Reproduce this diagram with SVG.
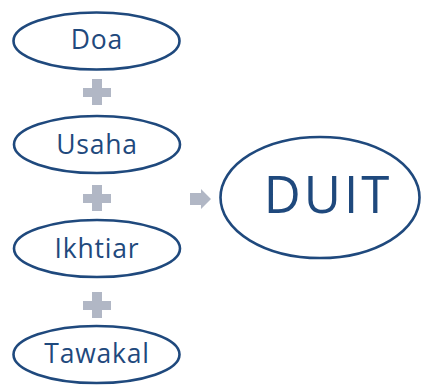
<svg xmlns="http://www.w3.org/2000/svg" width="421" height="385" viewBox="0 0 421 385">
<style>
.n ellipse{fill:#fff;stroke:#1F497D;stroke-width:2.6}
.n text{font-family:"Open Sans","Noto Sans",sans-serif;fill:#1F497D;text-anchor:middle}
.s{font-size:26.5px;letter-spacing:0.8px}
.p{fill:#B1B7C5}
</style>
<rect width="421" height="385" fill="#fff"/>
<g id="doa" class="n"><ellipse cx="96.5" cy="41" rx="83" ry="28.5"/><text class="s" x="97" y="49">Doa</text></g>
<g id="usaha" class="n"><ellipse cx="97" cy="144.5" rx="83" ry="28.5"/><text class="s" x="97" y="154">Usaha</text></g>
<g id="ikhtiar" class="n"><ellipse cx="97" cy="248.5" rx="83" ry="28.5"/><text class="s" x="97" y="258">Ikhtiar</text></g>
<g id="tawakal" class="n"><ellipse cx="96.5" cy="354.5" rx="83" ry="28.5"/><text class="s" x="97" y="363">Tawakal</text></g>
<g id="duit" class="n"><ellipse cx="320" cy="197.5" rx="99.5" ry="60.5"/><text x="328" y="213" font-size="51" letter-spacing="3">DUIT</text></g>
<g id="connectors">
<path class="p" d="M92 79h10v9h9v9h-9v8h-10v-8h-9v-9h9z"/>
<path class="p" d="M92 185h10v9h9v9h-9v8h-10v-8h-9v-9h9z"/>
<path class="p" d="M92 292h10v9h9v9h-9v8h-10v-8h-9v-9h9z"/>
<path class="p" d="M190 193h11v-4l10 10l-10 10v-4h-11z"/>
</g>
</svg>
